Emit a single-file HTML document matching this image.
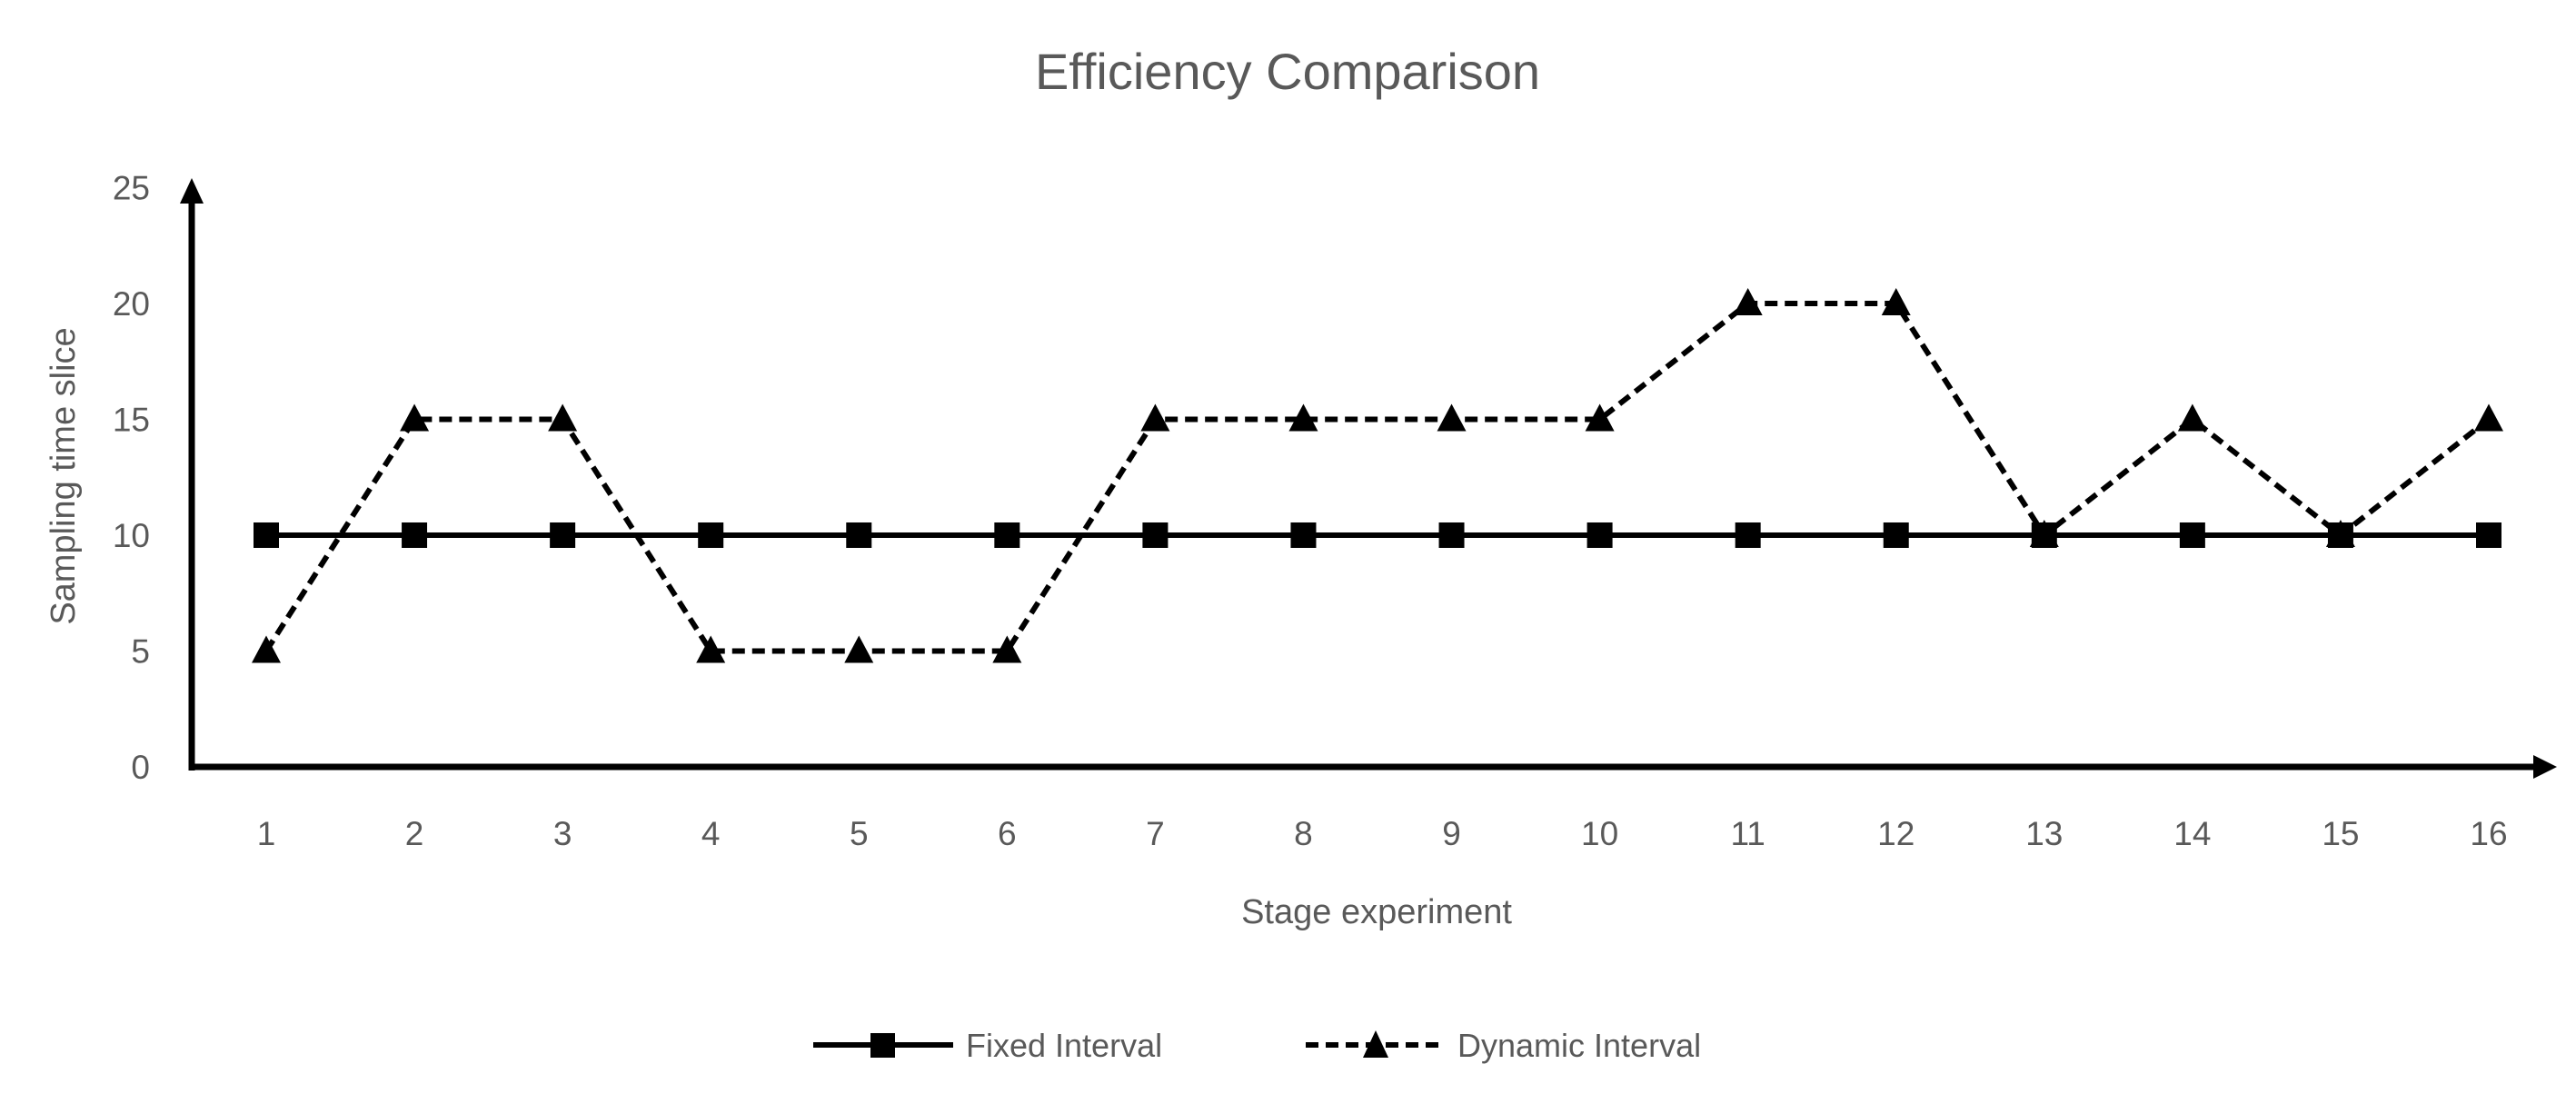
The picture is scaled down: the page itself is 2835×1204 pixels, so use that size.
<!DOCTYPE html>
<html><head><meta charset="utf-8"><style>
html,body{margin:0;padding:0;background:#fff;}
svg text{font-family:"Liberation Sans","DejaVu Sans",sans-serif;fill:#595959;}
</style></head><body>
<svg id="chart" width="2835" height="1199" viewBox="0 0 2835 1199" xmlns="http://www.w3.org/2000/svg">
<text x="1417" y="98" font-size="56" text-anchor="middle">Efficiency Comparison</text>
<text transform="translate(82,524) rotate(-90)" font-size="38" text-anchor="middle">Sampling time slice</text>
<text x="1515" y="1016" font-size="38" text-anchor="middle">Stage experiment</text>
<g id="yticks"></g>
<g id="xticks"></g>
<g id="series"></g>
<g>
<line x1="211" y1="848" x2="211" y2="210" stroke="#000" stroke-width="7"/>
<polygon points="211,196 198,224 224,224" fill="#000"/>
<line x1="208" y1="844" x2="2800" y2="844" stroke="#000" stroke-width="7"/>
<polygon points="2814,844 2788,831 2788,857" fill="#000"/>
</g>
<g>
<g>
<line x1="895" y1="1150" x2="1049" y2="1150" stroke="#000" stroke-width="6"/>
<rect x="958" y="1137" width="27" height="27" fill="#000"/>
<text x="1063" y="1163" font-size="36">Fixed Interval</text>
</g>
<g>
<line x1="1437" y1="1150" x2="1591" y2="1150" stroke="#000" stroke-width="6" stroke-dasharray="14,8"/>
<polygon points="1514,1134 1500,1164 1528,1164" fill="#000"/>
<text x="1604" y="1163" font-size="36">Dynamic Interval</text>
</g>
</g>
</svg>
<script>
const categories = ["1","2","3","4","5","6","7","8","9","10","11","12","13","14","15","16"];
const fixedValues = [10,10,10,10,10,10,10,10,10,10,10,10,10,10,10,10];
const dynamicValues = [5,15,15,5,5,5,15,15,15,15,20,20,10,15,10,15];
const yTickLabels = [0,5,10,15,20,25];

const NS = "http://www.w3.org/2000/svg";
function xScale(i){ return 293 + i * (2739 - 293) / (categories.length - 1); }
function yScale(v){ return 844 - v * 25.5; }
function mk(tag, attrs){ const e = document.createElementNS(NS, tag); for (const k in attrs) e.setAttribute(k, attrs[k]); return e; }

const yt = document.getElementById('yticks');
yTickLabels.forEach(v => {
  const t = mk('text', {x: 165, y: yScale(v) + 13, 'font-size': 37, 'text-anchor': 'end'});
  
  
  t.textContent = v;
  yt.appendChild(t);
});
const xt = document.getElementById('xticks');
categories.forEach((c, i) => {
  const t = mk('text', {x: xScale(i), y: 930, 'font-size': 37, 'text-anchor': 'middle'});
  
  
  t.textContent = c;
  xt.appendChild(t);
});

const sg = document.getElementById('series');
const fixedPath = mk('polyline', {points: fixedValues.map((v,i)=>xScale(i)+','+yScale(v)).join(' '), fill:'none', stroke:'#000', 'stroke-width':6});


sg.appendChild(fixedPath);
const dynPath = mk('polyline', {points: dynamicValues.map((v,i)=>xScale(i)+','+yScale(v)).join(' '), fill:'none', stroke:'#000', 'stroke-width':6, 'stroke-dasharray':'14,8'});


sg.appendChild(dynPath);
fixedValues.forEach((v,i) => {
  const r = mk('rect', {x: xScale(i)-14, y: yScale(v)-14, width: 28, height: 28, fill:'#000'});
  
  
  sg.appendChild(r);
});
dynamicValues.forEach((v,i) => {
  const x = xScale(i), y = yScale(v);
  const p = mk('polygon', {points: x+','+(y-17)+' '+(x-16)+','+(y+13)+' '+(x+16)+','+(y+13), fill:'#000'});
  
  
  sg.appendChild(p);
});
</script>
</body></html>
